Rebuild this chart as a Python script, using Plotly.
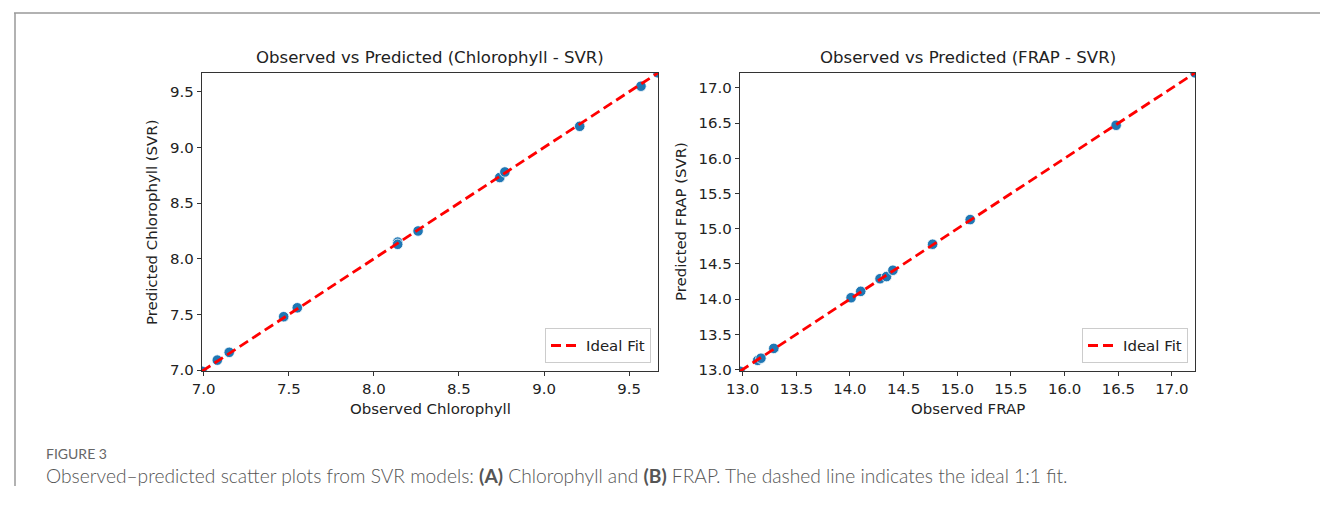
import plotly.graph_objects as go

W, H = 1320, 509

# Chlorophyll (SVR)
chl_observed = [6.99, 7.08, 7.15, 7.47, 7.55, 8.14, 8.14, 8.26, 8.74, 8.77, 9.21, 9.57, 9.67]
chl_predicted = [6.99, 7.09, 7.16, 7.48, 7.56, 8.15, 8.13, 8.25, 8.73, 8.78, 9.19, 9.55, 9.67]

# FRAP (SVR)
frap_observed = [12.975, 13.14, 13.17, 13.29, 14.01, 14.10, 14.28, 14.34, 14.40, 14.77, 15.12, 16.48, 17.215]
frap_predicted = [12.975, 13.13, 13.16, 13.30, 14.02, 14.11, 14.29, 14.32, 14.41, 14.78, 15.13, 16.47, 17.215]

titles = ["Observed vs Predicted (Chlorophyll - SVR)", "Observed vs Predicted (FRAP - SVR)"]
x_titles = ["Observed Chlorophyll", "Observed FRAP"]
y_titles = ["Predicted Chlorophyll (SVR)", "Predicted FRAP (SVR)"]
legend_label = "Ideal Fit"
figure_label = "FIGURE 3"
caption = ("Observed\u2013predicted scatter plots from SVR models: <b>(A)</b> Chlorophyll and "
           "<b>(B)</b> FRAP. The dashed line indicates the ideal 1:1 fit.")

FONT = "DejaVu Sans"
TXT = "#222222"
BLUE = "#1f77b4"

# mapping from target picture pixels to paper fractions
OX, SW, SH = 14.0, 1306.0, 502.0
FS = W / SW


def px(x):
    return (x - OX) / SW


def py(y):
    return 1 - y / SH


fig = go.Figure()

panels = [
    (chl_observed, chl_predicted, "x", "y", "legend", [202, 658], 7.0, 152, 651),
    (frap_observed, frap_predicted, "x2", "y2", "legend2", [740, 1195], 13.0, 681, 1188),
]

top, bottom = 73, 372

for i, (obs, pred, xa, ya, lg, xpix, t0, ytx, legx) in enumerate(panels):
    fig.add_trace(go.Scatter(
        x=obs, y=pred, mode="markers", xaxis=xa, yaxis=ya, showlegend=False,
        marker=dict(size=10.5, color=BLUE, line=dict(color="rgba(255,255,255,0.8)", width=1)),
        cliponaxis=True,
    ))
    lo, hi = min(obs), max(obs)
    fig.add_trace(go.Scatter(
        x=[lo, hi], y=[lo, hi], mode="lines", xaxis=xa, yaxis=ya, name=legend_label,
        legend=lg, line=dict(color="red", width=2.8, dash="10px,5px"),
    ))
    dom_x = [px(xpix[0]), px(xpix[1])]
    dom_y = [py(bottom), py(top)]
    axis_common = dict(
        showgrid=False, zeroline=False, showline=True, linecolor="#333333", linewidth=1.3,
        mirror=True, ticks="outside", ticklen=4, tickwidth=1, tickcolor="#333333",
        tickfont=dict(family=FONT, size=14.8 * FS, color=TXT), tickformat=".1f",
        dtick=0.5, tick0=t0,
    )
    sfx = "" if i == 0 else "2"
    fig.update_layout(**{
        "xaxis" + sfx: dict(domain=dom_x, range=[lo, hi], anchor="y" + sfx, **axis_common),
        "yaxis" + sfx: dict(domain=dom_y, range=[lo, hi], anchor="x" + sfx, **axis_common),
    })
    cx = (xpix[0] + xpix[1]) / 2
    fig.add_annotation(text=titles[i], x=px(cx), y=py(58), xref="paper", yref="paper",
                       showarrow=False, xanchor="center", yanchor="middle",
                       font=dict(family=FONT, size=16.4 * FS, color=TXT))
    fig.add_annotation(text=x_titles[i], x=px(cx), y=py(410), xref="paper", yref="paper",
                       showarrow=False, xanchor="center", yanchor="middle",
                       font=dict(family=FONT, size=14.8 * FS, color=TXT))
    fig.add_annotation(text=y_titles[i], x=px(ytx), y=py((top + bottom) / 2),
                       xref="paper", yref="paper", showarrow=False, textangle=-90,
                       xanchor="center", yanchor="middle",
                       font=dict(family=FONT, size=14.8 * FS, color=TXT))
    fig.update_layout(**{
        lg: dict(x=px(legx), y=py(364), bgcolor="white", bordercolor="#cccccc", borderwidth=1,
                 font=dict(family=FONT, size=14.8 * FS, color=TXT),
                 xanchor="right", yanchor="bottom", itemwidth=30)
    })

fig.add_annotation(text=figure_label, x=px(44), y=py(454), xref="paper", yref="paper",
                   showarrow=False, xanchor="left", yanchor="middle",
                   font=dict(family="Lato", size=14, color="#666666"))
fig.add_annotation(text=caption, x=px(44), y=py(476), xref="paper", yref="paper",
                   showarrow=False, xanchor="left", yanchor="middle",
                   font=dict(family="Lato", size=19.2, color="#555555", weight=300))

fig.add_shape(type="line", xref="paper", yref="paper", x0=0, x1=1, y0=py(13), y1=py(13),
              line=dict(color="#999999", width=1.5))
fig.add_shape(type="line", xref="paper", yref="paper", x0=px(15), x1=px(15), y0=py(13), y1=py(487),
              line=dict(color="#999999", width=1.5))

fig.update_layout(
    width=W, height=H, margin=dict(l=0, r=0, t=0, b=0),
    paper_bgcolor="white", plot_bgcolor="white", showlegend=True,
)

fig.write_html("out.html", config={"displayModeBar": False},
               post_script="document.body.style.margin='0';document.body.style.overflow='hidden';")
